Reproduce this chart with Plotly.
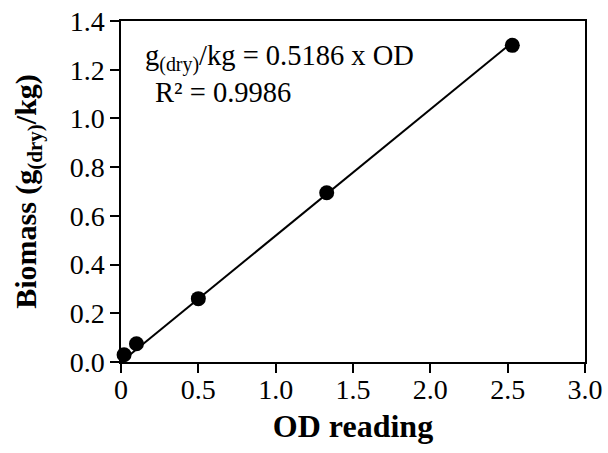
import plotly.graph_objects as go

od = [0.02, 0.10, 0.50, 1.33, 2.53]
biomass = [0.03, 0.075, 0.26, 0.695, 1.30]
slope = 0.5186
fit_x = [0.0, 2.53]
fit_y = [slope * v for v in fit_x]
x_ticks = [0, 0.5, 1.0, 1.5, 2.0, 2.5, 3.0]
x_labels = ["0", "0.5", "1.0", "1.5", "2.0", "2.5", "3.0"]
y_ticks = [0, 0.2, 0.4, 0.6, 0.8, 1.0, 1.2, 1.4]
y_labels = ["0.0", "0.2", "0.4", "0.6", "0.8", "1.0", "1.2", "1.4"]

font = "Liberation Serif, Times New Roman, serif"

fig = go.Figure()
fig.add_trace(go.Scatter(x=fit_x, y=fit_y, mode="lines",
                         line=dict(color="black", width=2), showlegend=False))
fig.add_trace(go.Scatter(x=od, y=biomass, mode="markers",
                         marker=dict(color="black", size=15), showlegend=False,
                         cliponaxis=False))

axis_common = dict(
    ticks="outside", ticklen=9, tickwidth=1.5, tickcolor="black",
    showline=True, linecolor="black", linewidth=1.5, mirror=True,
    showgrid=False, zeroline=False, automargin=False,
    tickfont=dict(size=28),
)

fig.update_layout(
    width=608, height=453,
    margin=dict(l=121, r=23, t=21, b=91),
    plot_bgcolor="white", paper_bgcolor="white",
    font=dict(family=font, color="black", size=28),
    xaxis=dict(range=[0, 3], tickvals=x_ticks, ticktext=x_labels,
               ticklabelstandoff=-7,
               title=dict(text="<b>OD reading</b>", font=dict(size=32), standoff=10),
               **axis_common),
    yaxis=dict(range=[0, 1.4], tickvals=y_ticks, ticktext=y_labels,
               title=dict(text="<b>Biomass (g<sub>(dry)</sub>/kg)</b>", font=dict(size=30), standoff=24),
               **axis_common),
    annotations=[
        dict(x=0.145, y=1.25, xref="x", yref="y", xanchor="left", yanchor="middle",
             text="g<sub>(dry)</sub>/kg = 0.5186 x OD", showarrow=False,
             font=dict(size=28.5)),
        dict(x=0.205, y=1.105, xref="x", yref="y", xanchor="left", yanchor="middle",
             text="R² = 0.9986", showarrow=False, font=dict(size=28.5)),
    ],
)

fig.write_html("out.html", config={"displayModeBar": False},
               post_script="document.body.style.margin='0';")
